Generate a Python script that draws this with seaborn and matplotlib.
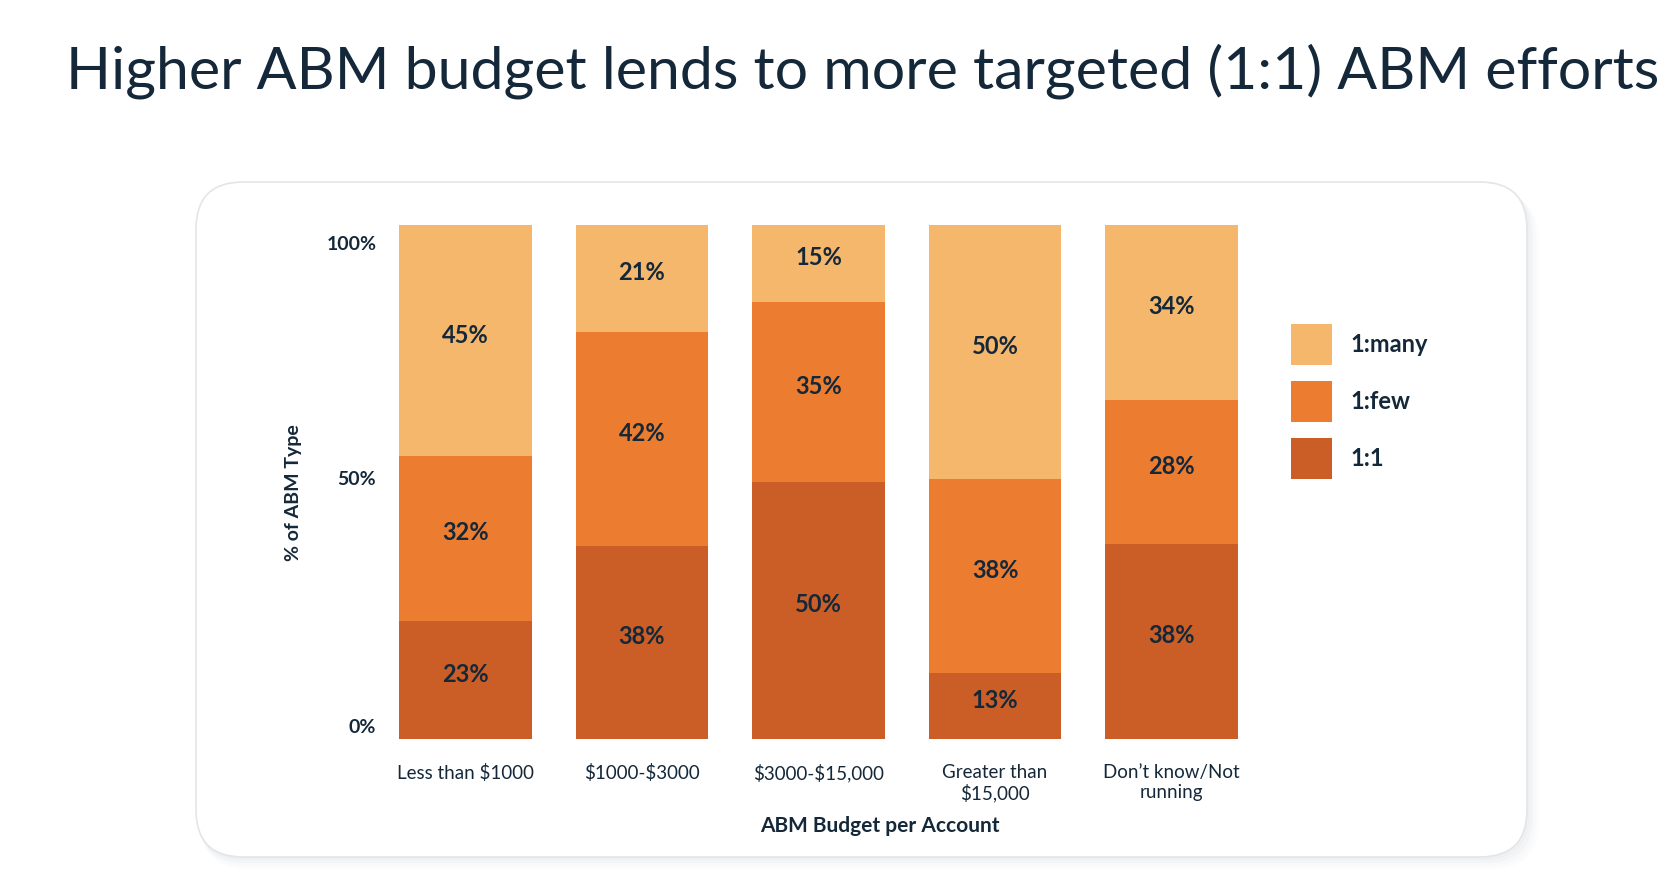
import numpy as np
import pandas as pd
import matplotlib.pyplot as plt
import seaborn as sns
from matplotlib.patches import FancyBboxPatch, Patch
from matplotlib.transforms import ScaledTranslation

# Chart data
categories = ["Less than $1000", "$1000-$3000", "$3000-$15,000",
              "Greater than\n$15,000", "Don\u2019t know/Not\nrunning"]
one_to_one = [23, 38, 50, 13, 38]
one_to_few = [32, 42, 35, 38, 28]
one_to_many = [45, 21, 15, 50, 34]
series_names = ["1:1", "1:few", "1:many"]
colors = {"1:1": "#CB5E26", "1:few": "#EC7D30", "1:many": "#F5B76B"}
ytick_values = [0, 50, 100]
ytick_labels = ["0%", "50%", "100%"]

text_color = "#14283a"

sns.set_theme(style="white")
plt.rcParams['font.family'] = ['Lato', 'DejaVu Sans']
plt.rcParams['text.parse_math'] = False  # keep the $ signs literal

fig = plt.figure(figsize=(16.8, 8.72), dpi=100)
fig.patch.set_facecolor("white")

# rounded card with soft shadow
W, H = 1680, 872
cx0, cy0, cx1, cy1 = 196, 182, 1527, 857
for i, a in enumerate([0.05, 0.04, 0.03, 0.02]):
    off = 3 + i * 3
    sh = FancyBboxPatch(((cx0 + off * 0.4) / W, 1 - (cy1 + off) / H),
                        (cx1 - cx0 + off * 0.6) / W, (cy1 - cy0) / H,
                        boxstyle="round,pad=0,rounding_size=0.028",
                        transform=fig.transFigure, facecolor="#8a96a8",
                        edgecolor="none", alpha=a, zorder=-2,
                        mutation_aspect=W / H)
    fig.patches.append(sh)
card = FancyBboxPatch((cx0 / W, 1 - cy1 / H), (cx1 - cx0) / W, (cy1 - cy0) / H,
                      boxstyle="round,pad=0,rounding_size=0.028",
                      transform=fig.transFigure, facecolor="white",
                      edgecolor="#e3e5e8", linewidth=1.2, zorder=-1,
                      mutation_aspect=W / H)
fig.patches.append(card)

fig.text(66 / W, 1 - 88 / H, "Higher ABM budget lends to more targeted (1:1) ABM efforts",
         fontsize=42.5, color=text_color, ha="left", va="baseline")

ax = fig.add_axes([377 / W, 1 - 739 / H, 883 / W, 514 / H])
ax.set_facecolor("none")
ax.set_zorder(2)

df = pd.DataFrame({"category": categories, "1:1": one_to_one,
                   "1:few": one_to_few, "1:many": one_to_many})
totals = df[series_names].sum(axis=1)
norm = df[series_names].div(totals, axis=0) * 100

bottom = np.zeros(len(df))
for name in series_names:
    sns.barplot(x=df["category"], y=norm[name], bottom=bottom, color=colors[name],
                width=0.75, ax=ax, saturation=1, edgecolor="none", linewidth=0)
    cont = ax.containers[-1]
    ax.bar_label(cont, labels=[f"{v}%" for v in df[name]], label_type="center",
                 padding=4, fontsize=17, fontweight="bold", color=text_color)
    bottom = bottom + norm[name].values

ax.set_xlim(-0.5, 4.5)
ax.set_ylim(0, 100)
ax.tick_params(axis="both", length=0)
ax.tick_params(axis="y", pad=0.5)
ax.tick_params(axis="x", pad=18, labelsize=13.5, labelcolor=text_color)
ax.set_yticks(ytick_values)
ax.set_yticklabels(ytick_labels, fontsize=14, fontweight="bold", color=text_color)
# the source nudges its end labels inward
for lab, dy in zip(ax.get_yticklabels(), [8, 2, -14]):
    lab.set_va("center")
    lab.set_transform(lab.get_transform() + ScaledTranslation(0, dy / 72, fig.dpi_scale_trans))
sns.despine(ax=ax, left=True, bottom=True)

ax.set_xlabel("ABM Budget per Account", fontsize=15, fontweight="bold", color=text_color)
ax.xaxis.set_label_coords(0.569, -0.150)
ax.set_ylabel("% of ABM Type", fontsize=14, fontweight="bold", color=text_color)
ax.yaxis.set_label_coords(-0.085, 0.479)

handles = [Patch(facecolor=colors[n], edgecolor="none") for n in ["1:many", "1:few", "1:1"]]
fig.legend(handles, ["1:many", "1:few", "1:1"], loc="upper left",
           bbox_to_anchor=(1291 / W, 1 - 324 / H), frameon=False,
           prop={"size": 17, "weight": "bold"}, labelcolor=text_color,
           handlelength=1.74, handleheight=2.3, labelspacing=0.68,
           handletextpad=0.8, borderpad=0, borderaxespad=0)

fig.savefig("out.png", dpi=100, facecolor="white")
